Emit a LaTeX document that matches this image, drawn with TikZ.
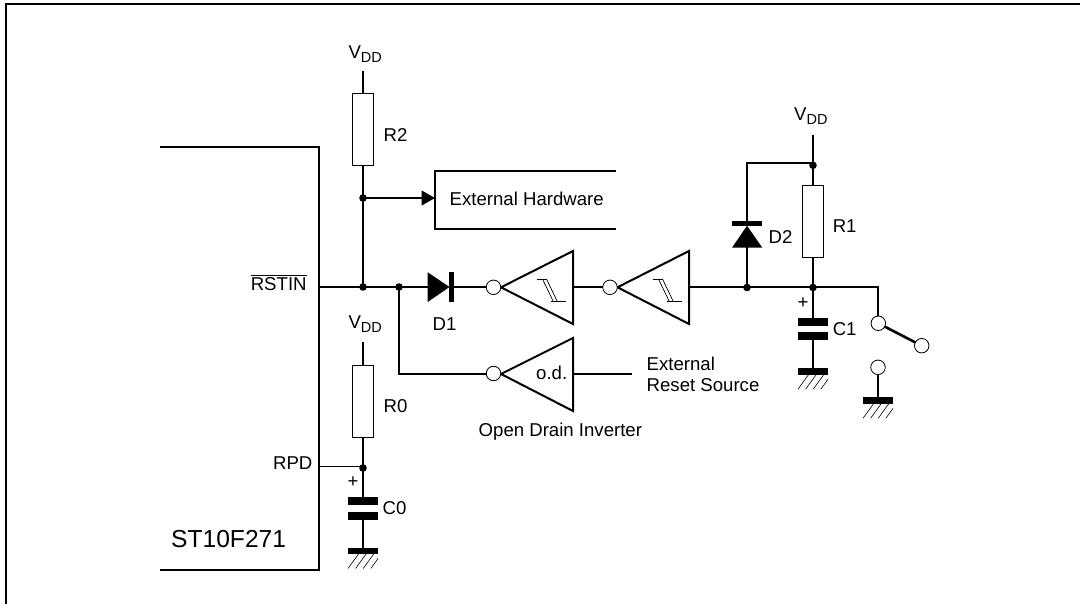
\documentclass[tikz,border=0pt]{standalone}
\usepackage{fontspec}
\setmainfont{Liberation Sans}
\tikzset{
  x=1pt,y=-1pt,
  wire/.style={line width=2pt,line cap=butt},
  res/.style={draw,line width=1pt,fill=white,minimum width=21pt,minimum height=72pt,inner sep=0pt},
  dot/.style={circle,fill=black,minimum size=7.6pt,inner sep=0pt},
  bubble/.style={circle,draw,line width=0.8pt,fill=white,minimum size=14.5pt,inner sep=0pt},
  lbl/.style={inner sep=0pt,anchor=base west,font=\fontsize{18.6}{22}\selectfont},
  plate/.style={fill=black,minimum width=30pt,minimum height=7.6pt,inner sep=0pt},
  hatchline/.style={line width=0.6pt},
  tri/.style={line width=2pt,line join=miter},
  hyst/.style={line width=0.7pt},
}
\newcommand{\vddtext}{V\raisebox{-3.4pt}{\fontsize{14.5}{16}\selectfont DD}}
\newcommand{\hatchat}[2]{%
  \begin{scope}
    \clip (#1-15,#2) rectangle (#1+15,#2+14.5);
    \foreach \k in {0,...,5}{\draw[hatchline] (#1-15+\k*7.6,#2+14.5) -- ++(10.5,-14.5);}
  \end{scope}}
\newcommand{\hystat}[1]{%
  \begin{scope}[shift={(#1,0)}]
    \draw[hyst] (536.7,279.5) -- (547,279.5);
    \draw[hyst] (542.7,279.5) -- (553.3,301.5);
    \draw[hyst] (546.7,279.5) -- (557.3,301.5);
    \draw[hyst] (551,301.5) -- (566,301.5);
  \end{scope}}
\begin{document}
\begin{tikzpicture}
\useasboundingbox (0,0) rectangle (1080,604);
\coordinate (frameTR) at (1080,4);
\coordinate (frameTL) at (6,4);
\coordinate (frameBL) at (6,604);
\draw[line width=2pt,line join=miter] (frameTR) -- (frameTL) -- (frameBL);
% chip
\coordinate (chipTL) at (160,147);
\coordinate (chipTR) at (319,147);
\coordinate (chipBR) at (319,570);
\coordinate (chipBL) at (160,570);
\draw[line width=2pt,line join=miter] (chipTL) -- (chipTR) -- (chipBR) -- (chipBL);
\node[lbl,font=\fontsize{24.6}{28}\selectfont] (chipname) at (171,547) {ST10F271};
% pin labels
\node[lbl] (rstinlbl) at (250.6,291) {\vbox{\hrule height 0.8pt \kern 2.6pt \hbox{RSTIN}}};
\node[lbl,anchor=base east] (rpdlbl) at (312.6,469) {RPD};
% junctions
\node[dot] (j1) at (363,198) {};
\node[dot] (j2) at (363,287) {};
\node[dot] (j3) at (399,287) {};
\node[dot] (j4) at (747,287.5) {};
\node[dot] (j5) at (813,287.5) {};
\node[dot] (j6) at (813,165.3) {};
\node[dot] (j7) at (363,468) {};
% VDD terminals
\coordinate (vddA) at (363,71);
\coordinate (vddB) at (813,135);
\coordinate (vddC) at (363,342);
\node[lbl] (vddAl) at (348.3,59) {\vddtext};
\node[lbl] (vddBl) at (794,120.7) {\vddtext};
\node[lbl] (vddCl) at (348.3,329) {\vddtext};
% Wires
\coordinate (pinR) at (319,287);
\coordinate (pinP) at (319,466.8);
\coordinate (d1in) at (430,287);
\draw[wire] (vddA) -- (j1.center) -- (j2.center);
\draw[wire] (pinR) -- (j2.center) -- (j3.center) -- (d1in);
\draw[line width=1.3pt] (pinP) -- (363,466.8);
\draw[wire] (vddC) -- (j7.center);
% resistors
\node[res] (R2) at (363,130) {};
\node[res] (R0) at (363,401.3) {};
\node[res] (R1) at (813,221.8) {};
\node[lbl] (R2l) at (383.5,141.5) {R2};
\node[lbl] (R0l) at (383.5,412.6) {R0};
\node[lbl] (R1l) at (832.6,233) {R1};
% External hardware
\coordinate (ehTR) at (616,171);
\coordinate (ehT) at (435,171);
\coordinate (ehB) at (435,229);
\coordinate (ehR) at (616,229);
\draw[line width=2pt,line join=miter] (ehTR) -- (ehT) -- (ehB) -- (ehR);
\draw[wire] (j1.center) -- (425,198);
\fill (421.7,190.5) -- (435,198) -- (421.7,205.5) -- cycle;
\node[lbl] (ehl) at (449.5,205.6) {External Hardware};
% D1
\fill (427.7,272.3) -- (449.5,287) -- (427.7,302) -- cycle;
\fill (449,272) rectangle (454,302);
\draw[wire] (454,287) -- (487,287);
\node[lbl] (D1l) at (432.5,330.6) {D1};
% branch to OD
\draw[wire] (j3.center) -- (399,374) -- (487,374);
% inverter 1
\draw[tri,fill=white] (573,251) -- (501,287.3) -- (573,324) -- cycle;
\node[bubble] (b1) at (493.5,287.3) {};
\draw[wire] (573,287) -- (604,287);
\hystat{0}
% inverter 2
\draw[tri,fill=white] (689,251) -- (617.5,287.3) -- (689,324) -- cycle;
\node[bubble] (b2) at (610,287.3) {};
\draw[wire] (689,287.5) -- (j4.center) -- (j5.center) -- (878,287.5) -- (878,318);
\hystat{116}
% od inverter
\draw[tri,fill=white] (573,338) -- (501,374) -- (573,411) -- cycle;
\node[bubble] (b3) at (493.5,373.5) {};
\node[lbl,anchor=base] (odl) at (551.7,379.6) {o.d.};
\draw[wire] (573,374) -- (631.7,374);
\node[lbl] (ext1) at (646.5,370.5) {External};
\node[lbl] (ext2) at (646.5,391.5) {Reset Source};
\node[lbl] (odn) at (478.5,436) {Open Drain Inverter};
% D2
\coordinate (d2top) at (747,163.4);
\draw[wire] (813,163.4) -- (d2top) -- (747,222);
\draw[wire] (747,247) -- (j4.center);
\fill (732,221) rectangle (762.3,225.7);
\fill (747,225.7) -- (762.3,247.7) -- (732,247.7) -- cycle;
\node[lbl] (D2l) at (768.5,243.6) {D2};
% R1 supply
\draw[wire] (vddB) -- (j6.center) -- (R1.north);
\draw[wire] (R1.south) -- (j5.center);
% C1
\node[lbl,anchor=center] (plus1) at (803,303) {+};
\node[plate] (C1a) at (813,322) {};
\node[plate] (C1b) at (813,336.3) {};
\draw[wire] (j5.center) -- (C1a.north);
\node[lbl] (C1l) at (832.6,335) {C1};
\node[plate,minimum height=6.7pt] (G1) at (813,371.3) {};
\draw[wire] (C1b.south) -- (G1.north);
\hatchat{813}{374.7}
% switch
\node[bubble] (s1) at (878.3,323.3) {};
\node[bubble] (s2) at (921.7,345.7) {};
\draw[line width=2.6pt,shorten >=-0.5pt,shorten <=-0.5pt] (s1) -- (s2);
\node[bubble] (s3) at (878,367.3) {};
\node[plate,minimum height=6.7pt] (G2) at (878,400.5) {};
\draw[wire] (s3) -- (G2.north);
\hatchat{878}{403.8}
% C0
\node[lbl,anchor=center] (plus0) at (353,482) {+};
\node[plate] (C0a) at (363,501) {};
\node[plate] (C0b) at (363,516) {};
\draw[wire] (j7.center) -- (C0a.north);
\node[lbl] (C0l) at (382.5,514) {C0};
\node[plate,minimum height=6pt] (G0) at (363,551) {};
\draw[wire] (C0b.south) -- (G0.north);
\hatchat{363}{554}
\end{tikzpicture}
\end{document}
